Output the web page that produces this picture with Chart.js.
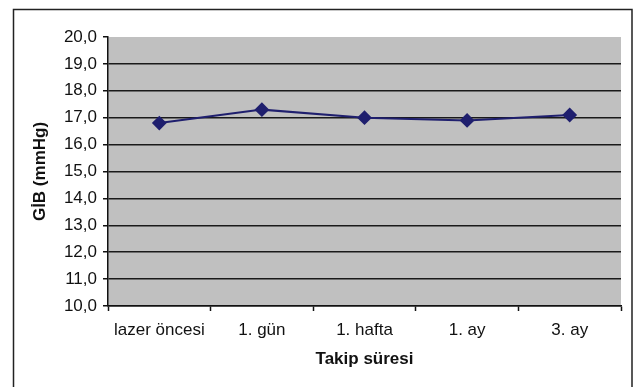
<!DOCTYPE html>
<html>
<head>
<meta charset="utf-8">
<script src="https://cdn.jsdelivr.net/npm/chart.js@4"></script>
<style>
  html, body { margin: 0; padding: 0; background: #fff; }
  #wrap { width: 635px; height: 387px; }
</style>
</head>
<body>
<div id="wrap"><canvas id="gibChart" width="635" height="387"></canvas></div>
<script>
// takip süreleri ve ortalama GİB değerleri
const categories = ["lazer öncesi", "1. gün", "1. hafta", "1. ay", "3. ay"];
const gibValues = [16.8, 17.3, 17.0, 16.9, 17.1];
const yMin = 10;
const yMax = 20;
const yStep = 1;

// outer frame + gray plot background
const framePlugin = {
  id: "frame",
  beforeDraw(chart) {
    const ctx = chart.ctx;
    const a = chart.chartArea;
    ctx.save();
    ctx.fillStyle = "#fff";
    ctx.fillRect(0, 0, chart.width, chart.height);
    ctx.strokeStyle = "#222";
    ctx.lineWidth = 1.5;
    ctx.beginPath();
    ctx.moveTo(13.5, 390);
    ctx.lineTo(13.5, 9.5);
    ctx.lineTo(632, 9.5);
    ctx.lineTo(632, 390);
    ctx.stroke();
    ctx.fillStyle = "#c0c0c0";
    ctx.fillRect(a.left, a.top, a.right - a.left, a.bottom - a.top);
    ctx.restore();
  },
};

const ctx = document.getElementById("gibChart").getContext("2d");
new Chart(ctx, {
  type: "line",
  data: {
    labels: categories,
    datasets: [
      {
        data: gibValues,
        borderColor: "#1f1f6e",
        backgroundColor: "#1f1f6e",
        borderWidth: 2,
        pointStyle: "rectRot",
        pointRadius: 6,
        pointHoverRadius: 6,
        tension: 0,
      },
    ],
  },
  options: {
    responsive: false,
    animation: false,
    layout: { padding: { top: 37, right: 14, left: 0, bottom: 0 } },
    plugins: {
      legend: { display: false },
      tooltip: { enabled: false },
    },
    scales: {
      x: {
        offset: true,
        afterFit: (scale) => { scale.height = 81; },
        grid: {
          offset: true,
          drawOnChartArea: false,
          tickLength: 5,
          tickColor: "#111",
          tickWidth: 1.5,
        },
        border: { display: true, color: "#111", width: 1.5 },
        ticks: {
          color: "#111",
          padding: 9,
          maxRotation: 0,
          font: { family: "Liberation Sans, Arial", size: 17 },
        },
        title: {
          display: true,
          text: "Takip süresi",
          color: "#111",
          padding: { top: 0, bottom: 17 },
          font: { family: "Liberation Sans, Arial", size: 17, weight: "bold" },
        },
      },
      y: {
        min: yMin,
        max: yMax,
        afterFit: (scale) => { scale.width = 108; },
        grid: {
          color: (c) => (c.tick && c.tick.value === yMax ? "rgba(0,0,0,0)" : "#1a1a1a"),
          lineWidth: 1.5,
          tickLength: 5,
          tickColor: "#111",
          tickWidth: 1.5,
        },
        border: { display: true, color: "#111", width: 1.5 },
        ticks: {
          stepSize: yStep,
          color: "#111",
          padding: 6,
          font: { family: "Liberation Sans, Arial", size: 17 },
          callback: (v) => v.toFixed(1).replace(".", ","),
        },
        title: {
          display: true,
          text: "GİB (mmHg)",
          color: "#111",
          padding: { top: 30, bottom: 0 },
          font: { family: "Liberation Sans, Arial", size: 17, weight: "bold" },
        },
      },
    },
  },
  plugins: [framePlugin],
});
</script>
</body>
</html>
